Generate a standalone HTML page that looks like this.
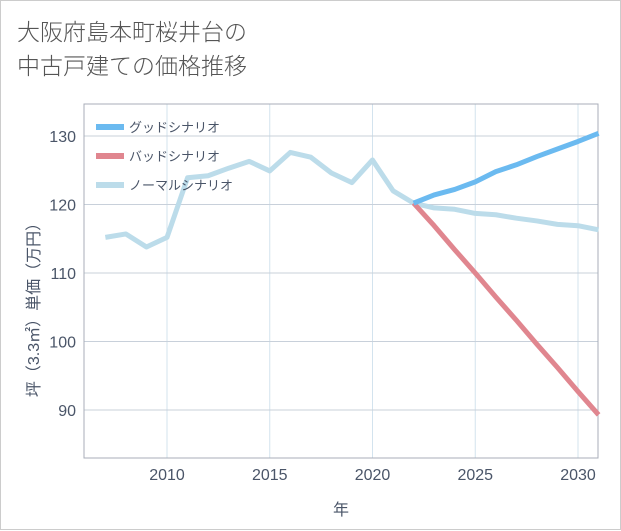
<!DOCTYPE html>
<html><head><meta charset="utf-8"><style>
body{margin:0;background:#fff;}
#wrap{position:relative;width:619px;height:528px;border:1px solid #ccc;background:#fff;font-family:"Liberation Sans","Noto Sans CJK JP",sans-serif;}
#title{position:absolute;left:16px;top:14px;font-size:23px;line-height:34px;color:#555;font-weight:300;}
svg{position:absolute;left:0;top:0;}
</style></head><body>
<div id="wrap">
<div id="title">大阪府島本町桜井台の<br>中古戸建ての価格推移</div>
<svg id="chart" width="621" height="530"></svg>
</div>
<script>
const years=[2007,2008,2009,2010,2011,2012,2013,2014,2015,2016,2017,2018,2019,2020,2021,2022,2023,2024,2025,2026,2027,2028,2029,2030,2031];
const normal=[115.2,115.7,113.8,115.2,123.9,124.2,125.3,126.3,124.9,127.6,126.9,124.6,123.2,126.5,122.0,120.2,119.5,119.3,118.7,118.5,118.0,117.6,117.1,116.9,116.3];
const goodYears=[2022,2023,2024,2025,2026,2027,2028,2029,2030,2031];
const good=[120.2,121.4,122.2,123.3,124.8,125.8,127.0,128.1,129.2,130.4];
const bad=[120.2,116.9,113.4,110.0,106.5,103.1,99.6,96.2,92.7,89.3];
const xTicks=[2010,2015,2020,2025,2030];
const yTicks=[90,100,110,120,130];
const L=83,R=597,T=103,B=457;
const x=v=>166+(v-2010)*20.55;
const y=v=>135-(v-130)*6.85;
const svg=document.getElementById('chart');
const NS='http://www.w3.org/2000/svg';
function mk(t,a){const e=document.createElementNS(NS,t);for(const k in a)e.setAttribute(k,a[k]);svg.appendChild(e);return e;}
xTicks.forEach(t=>{
 let g=mk('line',{x1:x(t),x2:x(t),y1:T,y2:B,stroke:'#d3e3ee','stroke-width':1});
 
 
 let l=mk('text',{x:x(t),y:B+22,'text-anchor':'middle','font-size':16,fill:'#4a5568'});
 l.textContent=t;
 
 
});
yTicks.forEach(t=>{
 let g=mk('line',{x1:L,x2:R,y1:y(t),y2:y(t),stroke:'#c8d0da','stroke-width':1});
 
 
 let l=mk('text',{x:L-8,y:y(t)+6,'text-anchor':'end','font-size':16,fill:'#4a5568'});
 l.textContent=t;
 
 
});
let e=mk('rect',{x:L,y:T,width:R-L,height:B-T,fill:'none',stroke:'#a8aeb8','stroke-width':1});


function line(xs,vs,col,name){
 const p=mk('polyline',{points:xs.map((v,i)=>x(v)+','+y(vs[i])).join(' '),fill:'none',stroke:col,'stroke-width':5,'stroke-linejoin':'round'});
 
 
}
line(years,normal,'#bcdcea','normal-scenario-line');
line(goodYears,bad,'#e0868f','bad-scenario-line');
line(goodYears,good,'#6bbaf0','good-scenario-line');
[['グッドシナリオ','#6bbaf0'],['バッドシナリオ','#e0868f'],['ノーマルシナリオ','#bcdcea']].forEach((d,i)=>{
 const yy=126+i*29;
 let s=mk('line',{x1:95,x2:123,y1:yy,y2:yy,stroke:d[1],'stroke-width':6});
 
 
 let t=mk('text',{x:128,y:yy+5,'font-size':13,fill:'#4a5568'});
 t.textContent=d[0];
 
 
});
let xt=mk('text',{x:340,y:514,'text-anchor':'middle','font-size':16,fill:'#4a5568'});
xt.textContent='年';


let yt=mk('text',{x:0,y:0,'text-anchor':'middle','font-size':16,fill:'#4a5568',transform:'translate(38,305) rotate(-90)'});
yt.textContent='坪（3.3㎡）単価（万円）';


</script>
</body></html>
